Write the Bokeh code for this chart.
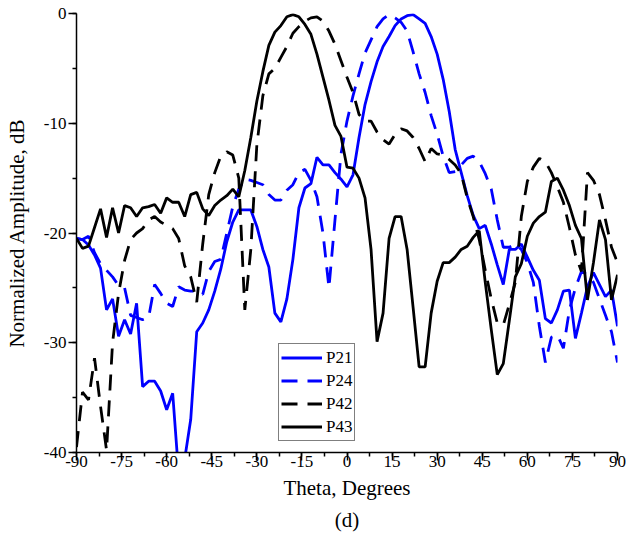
from bokeh.plotting import figure
from bokeh.models import Range1d, SingleIntervalTicker, Title, PrintfTickFormatter
from bokeh.embed import file_html
from bokeh.resources import INLINE

theta = list(range(-90, 91, 2))

p21 = [-20.5, -20.6, -21.1, -22.0, -23.2, -27.0, -26.0, -29.4, -27.9, -29.2,
       -26.4, -34.0, -33.5, -33.5, -34.4, -36.1, -34.6, -42.0, -40.6, -37.0,
       -29.0, -28.2, -27.0, -25.3, -23.3, -20.8, -19.0, -17.9, -17.9, -17.9,
       -19.4, -21.5, -23.1, -27.3, -28.1, -26.0, -22.4, -17.7, -15.9, -15.5,
       -13.1, -13.8, -13.8, -14.5, -15.1, -15.8, -14.7, -11.3, -8.3, -6.2,
       -4.4, -3.0, -2.1, -1.1, -0.5, -0.2, -0.1, -0.5, -0.9, -2.1,
       -3.7, -6.0, -8.9, -12.4, -14.5, -16.6, -18.4, -19.6, -19.3, -21.0,
       -22.9, -24.7, -21.5, -21.5, -21.0, -22.2, -23.4, -24.3, -27.8, -28.2,
       -27.0, -25.3, -25.2, -29.6, -27.3, -24.9, -23.6, -24.7, -25.8, -25.2,
       -28.5]

p24 = [-20.5, -20.6, -20.3, -21.8, -22.8, -23.4, -24.0, -24.8, -25.0, -27.5,
       -27.7, -27.9, -27.7, -24.7, -25.5, -26.4, -26.7, -24.9, -25.2, -25.3,
       -25.3, -25.6, -23.5, -22.6, -22.4, -20.0, -17.6, -16.0, -15.1, -15.2,
       -15.4, -15.6, -16.5, -17.0, -17.0, -16.1, -15.6, -14.5, -14.2, -15.2,
       -16.7, -20.0, -25.0, -18.8, -12.8, -9.8, -7.5, -5.5, -3.6, -2.4,
       -1.2, -0.5, -0.1, -0.4, -0.8, -1.6, -3.5, -5.5, -7.2, -9.3,
       -11.0, -13.0, -14.5, -14.4, -13.8, -13.2, -13.0, -13.5, -14.6, -16.0,
       -18.8, -21.3, -21.3, -21.0, -21.5, -22.7, -24.5, -28.5, -31.8, -29.5,
       -29.3, -30.5, -27.0, -25.0, -23.5, -23.8, -24.5, -26.0, -27.5, -29.0,
       -31.8]

p42 = [-39.5, -34.5, -35.2, -31.4, -35.8, -39.8, -30.0, -25.5, -22.5, -20.6,
       -20.0, -19.6, -18.8, -18.5, -19.0, -19.3, -19.6, -20.5, -23.0, -24.0,
       -26.3, -21.0, -16.5, -14.5, -13.0, -12.6, -12.9, -15.0, -27.0, -21.5,
       -12.0, -7.5, -5.5, -5.0, -4.0, -3.0, -1.8, -1.2, -0.7, -0.4,
       -0.3, -0.7, -1.6, -2.8, -4.3, -5.8, -7.2, -9.2, -9.8, -9.8,
       -10.8, -11.5, -11.9, -11.0, -10.5, -10.7, -11.3, -12.3, -13.5, -12.3,
       -12.8, -12.9, -13.3, -13.8, -14.6, -16.8, -18.5, -20.6, -23.4, -26.0,
       -28.2, -28.4, -26.5, -24.5, -18.5, -15.3, -14.0, -13.2, -13.5, -14.5,
       -15.8, -17.2, -19.5, -22.0, -23.5, -14.5, -15.2, -16.5, -18.8, -21.3,
       -22.7]

p43 = [-20.5, -21.4, -21.2, -19.5, -17.8, -20.4, -17.7, -20.0, -17.5, -17.7,
       -18.5, -17.7, -17.6, -17.4, -18.2, -16.8, -17.2, -17.2, -18.5, -16.5,
       -16.3, -17.8, -18.4, -17.5, -17.0, -16.6, -16.0, -16.7, -14.3, -11.3,
       -8.0, -5.3, -2.9, -1.7, -1.1, -0.3, -0.1, -0.3, -1.0, -1.9,
       -3.7, -5.8, -7.9, -10.2, -11.2, -14.0, -14.1, -15.0, -16.8, -21.5,
       -29.9, -27.3, -20.5, -18.5, -18.5, -21.5, -26.8, -32.2, -32.2, -27.3,
       -24.4, -22.7, -22.7, -22.2, -21.5, -21.2, -20.4, -19.8, -24.5, -28.8,
       -32.9, -31.9, -28.0, -24.0, -22.8, -20.3, -19.1, -18.5, -18.1, -15.3,
       -15.0, -16.1, -17.5, -19.3, -20.5, -26.1, -22.7, -18.8, -20.6, -26.1,
       -23.8]

FONT = "Liberation Serif"

p = figure(width=628, height=542, x_range=Range1d(-90, 90), y_range=Range1d(-40, 0),
           output_backend="svg", toolbar_location=None,
           min_border_left=76, min_border_right=11, min_border_top=13, min_border_bottom=90)
p.outline_line_color = None
p.grid.visible = False
p.background_fill_color = "white"
p.border_fill_color = "white"

W = 2.8
DASH = "16 10"
p.line(theta, p21, line_color="#0000FF", line_width=W, legend_label="P21")
p.line(theta, p24, line_color="#0000FF", line_width=W, line_dash=DASH, legend_label="P24")
p.line(theta, p42, line_color="black", line_width=W, line_dash=DASH, legend_label="P42")
p.line(theta, p43, line_color="black", line_width=W, legend_label="P43")

p.xaxis.ticker = SingleIntervalTicker(interval=15, num_minor_ticks=2)
p.yaxis.ticker = SingleIntervalTicker(interval=10, num_minor_ticks=2)
for ax in (p.xaxis[0], p.yaxis[0]):
    ax.formatter = PrintfTickFormatter(format="%d")
    ax.axis_line_width = 1.5
    ax.major_tick_line_width = 1.5
    ax.minor_tick_line_width = 1.5
    ax.major_tick_out = 8
    ax.major_tick_in = 0
    ax.minor_tick_out = 4
    ax.minor_tick_in = 0
    ax.major_label_text_font = FONT
    ax.major_label_text_font_size = "17px"
    ax.major_label_text_color = "black"
    ax.axis_label_text_font = FONT
    ax.axis_label_text_font_size = "21px"
    ax.axis_label_text_font_style = "normal"
    ax.axis_label_text_color = "black"

p.xaxis.major_label_standoff = -5
p.yaxis.major_label_standoff = 2
p.xaxis.axis_label = "Theta, Degrees"
p.yaxis.axis_label = "Normalized Amplitude, dB"
p.xaxis.axis_label_standoff = 6
p.yaxis.axis_label_standoff = 12

p.add_layout(Title(text="(d)", align="center", text_font=FONT, text_font_size="21px",
                   text_font_style="normal", text_color="black", standoff=6), "below")

lg = p.legend[0]
lg.location = (202, 11)
lg.label_text_font = FONT
lg.label_text_font_size = "17px"
lg.label_text_color = "black"
lg.glyph_width = 41
lg.glyph_height = 23
lg.label_height = 23
lg.label_standoff = 4
lg.padding = 2
lg.spacing = 0
lg.margin = 0
lg.border_line_color = "black"
lg.border_line_width = 1
lg.background_fill_alpha = 1

open("out.html", "w").write(file_html(p, INLINE))
